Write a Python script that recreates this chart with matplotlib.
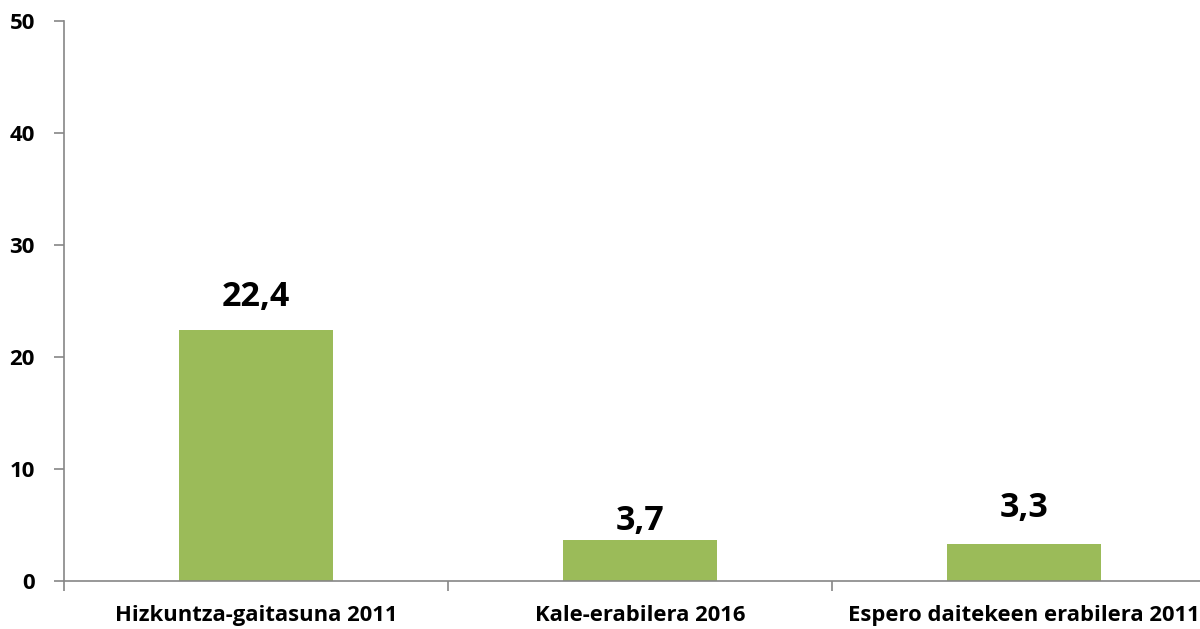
import matplotlib
matplotlib.use("Agg")
import matplotlib.pyplot as plt
import numpy as np

# data
categories = ["Hizkuntza-gaitasuna 2011", "Kale-erabilera 2016", "Espero daitekeen erabilera 2011"]
values = [22.4, 3.7, 3.3]
value_labels = ["22,4", "3,7", "3,3"]
label_offsets = [33, 19, 36]  # px above bar, as in the original

plt.rcParams['font.family'] = ['Open Sans', 'DejaVu Sans']
plt.rcParams['font.weight'] = 'bold'

fig = plt.figure(figsize=(12, 6.29), dpi=100)
ax = fig.add_axes([64/1200, 48/629, 1152/1200, 560/629])

x = np.arange(len(categories))
ax.bar(x, values, width=0.4, color="#9BBB59", zorder=2)

for xi, v, lab, off in zip(x, values, value_labels, label_offsets):
    ax.annotate(lab, (xi, v), xytext=(0, off * 0.72), textcoords="offset points",
                ha="center", va="center", fontsize=24.5, fontweight="bold")

ax.set_xlim(-0.5, len(categories) - 0.5)
ax.set_ylim(0, 50)
ax.set_yticks([0, 10, 20, 30, 40, 50])
ax.set_yticklabels(["0", "10", "20", "30", "40", "50"], fontsize=16, fontweight="bold")

# category labels between boundary ticks
ax.set_xticks(x)
ax.set_xticklabels(categories, fontsize=15.8, fontweight="bold")
ax.tick_params(axis="x", length=0, pad=17)
ax.set_xticks(np.arange(len(categories) + 1) - 0.5, minor=True)
ax.tick_params(axis="x", which="minor", length=7, color="#868686", width=1.2)
ax.tick_params(axis="y", length=7, color="#868686", width=1.2, pad=14)

for s in ["top", "right"]:
    ax.spines[s].set_visible(False)
for s in ["left", "bottom"]:
    ax.spines[s].set_color("#868686")
    ax.spines[s].set_linewidth(1.2)

fig.savefig("out.png", dpi=100)
